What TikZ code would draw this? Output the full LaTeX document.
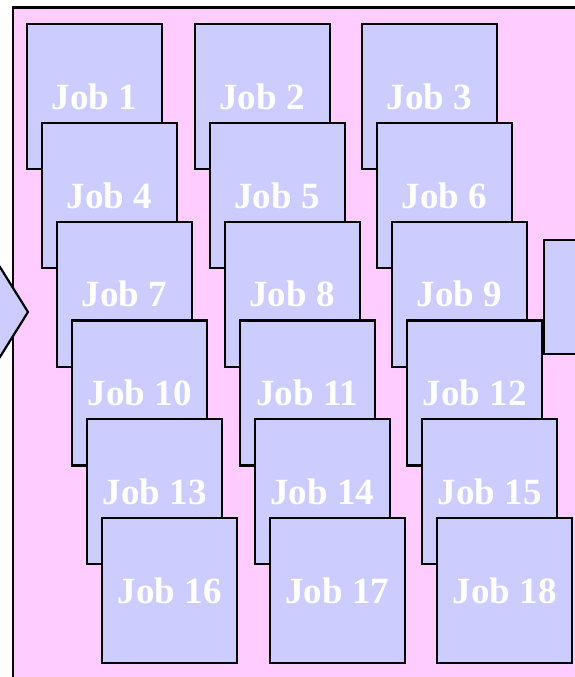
\documentclass[tikz,border=0pt]{standalone}
\usepackage{fontspec}
\setmainfont{Liberation Serif}
\usepackage{tikz}
\usetikzlibrary{positioning}
\definecolor{poolpink}{RGB}{255,204,255}
\definecolor{joblilac}{RGB}{204,204,255}

\begin{document}
\begin{tikzpicture}[x=1pt,y=-1pt,
          pool/.style={draw=black,fill=poolpink,line width=2.2pt},
          jobbox/.style={draw=black,fill=joblilac,line width=2.2pt,
            text=white,font=\fontsize{37}{40}\selectfont\bfseries,
            minimum width=135pt,minimum height=145pt,
            anchor=north west,inner sep=0pt}]
        \useasboundingbox (0,0) rectangle (575,677);

        \node[pool,minimum width=620pt,minimum height=670pt,
          anchor=north west,inner sep=0pt] (pool) at (11.5,6.5) {};

        % incoming chevron on the left
        \draw[fill=joblilac,line width=2.2pt] (-10,251) -- (28,312)
          -- (-10,373) -- (-60,373) -- (-60,251) -- cycle;
        \coordinate (chevron) at (28,312);

        % the jobs, row by row
        \foreach \r in {0,...,5}
          \foreach \c in {0,1,2} {
            \pgfmathtruncatemacro{\n}{3*\r+\c+1}
            \node[jobbox] (job\n) at (26+15*\r+167.5*\c,23+98.8*\r)
              {Job \n};
          }

        % next box on the right
        \node[jobbox,minimum width=80pt,minimum height=114pt] (next)
          at (543,239) {};

      \end{tikzpicture}
\end{document}
